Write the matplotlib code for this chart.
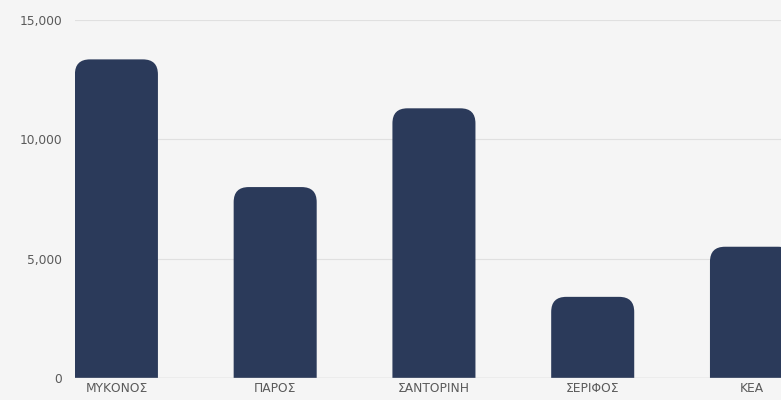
import matplotlib.pyplot as plt
from matplotlib.patches import FancyBboxPatch

islands = ['ΜΥΚΟΝΟΣ', 'ΠΑΡΟΣ', 'ΣΑΝΤΟΡΙΝΗ', 'ΣΕΡΙΦΟΣ', 'ΚΕΑ']
values = [13350, 8000, 11300, 3400, 5500]
yticks = [0, 5000, 10000, 15000]

bar_color = '#2b3a5a'
bg = '#f5f5f5'

fig = plt.figure(figsize=(7.81, 4.0), dpi=100, facecolor=bg)
ax = fig.add_axes([0.096, 0.055, 0.904, 0.895], facecolor=bg)

x = list(range(len(islands)))
width = 0.523
ax.set_xlim(-0.261, 4.186)
ax.set_ylim(0, 15000)

# rounding radius in pixels -> data units
r_px = 15
ax_w = fig.get_figwidth() * fig.dpi * 0.904
ax_h = fig.get_figheight() * fig.dpi * 0.895
x_per_px = (4.186 + 0.261) / ax_w
y_per_px = 15000 / ax_h
r_x = r_px * x_per_px
r_y = r_px * y_per_px

# rounded bars, started below zero so only the top corners show
for xi, v in zip(x, values):
    p = FancyBboxPatch((xi - width / 2, -3 * r_y), width, v + 3 * r_y,
                       boxstyle=f"round,pad=0,rounding_size={r_x}",
                       mutation_aspect=y_per_px / x_per_px,
                       facecolor=bar_color, edgecolor='none', zorder=3)
    ax.add_patch(p)

for t in yticks[1:]:
    ax.axhline(t, color='#e0e0e0', lw=0.8, zorder=1)
ax.axhline(0, color='#c8c8c8', lw=1.0, zorder=4)

font = ['DejaVu Sans']
ax.set_xticks(x)
ax.set_xticklabels(islands, fontsize=8.8, color='#5a5a5a', family=font)
ax.set_yticks(yticks)
ax.set_yticklabels([f'{t:,}' for t in yticks], fontsize=8.8, color='#5a5a5a', family=font)
ax.tick_params(axis='both', length=0)
ax.tick_params(axis='x', pad=3)
ax.tick_params(axis='y', pad=9)
for s in ax.spines.values():
    s.set_visible(False)

fig.savefig('out.png', dpi=100, facecolor=bg)
